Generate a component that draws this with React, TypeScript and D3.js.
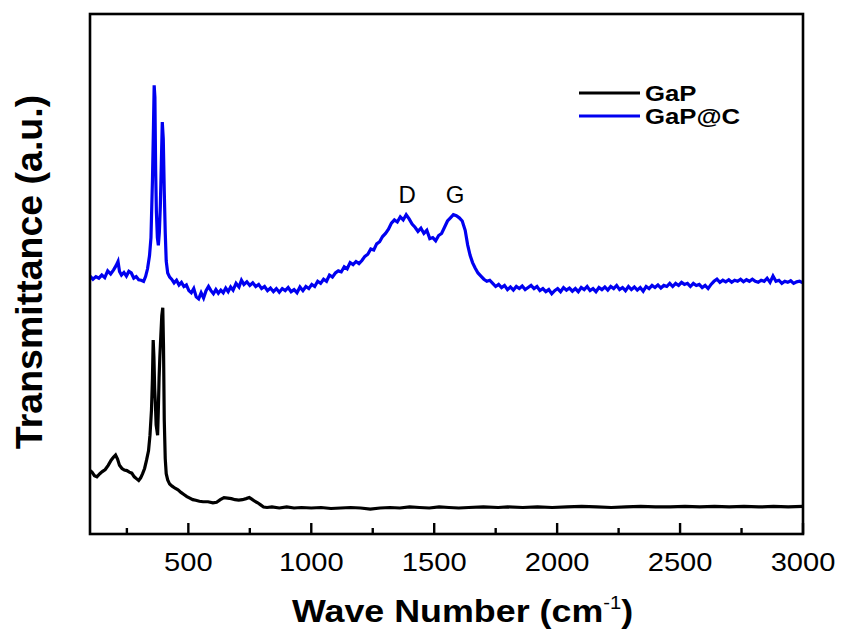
import { useEffect, useRef } from 'react';
import * as d3 from 'd3';

// x axis ticks (wave number, cm-1)
const majorTicks = [500, 1000, 1500, 2000, 2500, 3000];
const minorTicks = [250, 750, 1250, 1750, 2250, 2750];

const seriesNames = ['GaP', 'GaP@C'];
const seriesColors = ['#000000', '#0000f0'];

// band labels over the carbon peaks
const bandLabels = ['D', 'G'];
const bandPositions = [1390, 1585];

// GaP spectrum [wave number, intensity a.u.]
const gapSpectrum: [number, number][] = [
  [100, 12.2], [108, 11.9], [118, 11.2], [128, 11.0], [140, 11.6], [150, 12.0],
  [162, 12.4], [174, 13.2], [186, 14.2], [196, 14.8], [204, 15.2], [212, 14.4],
  [220, 13.2], [230, 12.6], [240, 12.3], [250, 12.2], [260, 11.9], [270, 11.7],
  [280, 11.0], [290, 10.6], [298, 10.3], [306, 10.8], [314, 11.6], [322, 12.6],
  [330, 14.2], [338, 16.0], [344, 19.0], [350, 23.8], [354, 30.0], [357, 37.3],
  [360, 34.0], [363, 28.0], [366, 25.0], [369, 21.0], [372, 20.0], [375, 19.0],
  [378, 24.0], [381, 30.0], [384, 34.0], [388, 38.0], [392, 42.0], [396, 43.5],
  [399, 36.0], [402, 22.0], [406, 14.5], [410, 11.6], [416, 10.4], [424, 9.6],
  [434, 9.2], [446, 8.8], [458, 8.5], [470, 8.0], [482, 7.6], [494, 7.2],
  [506, 6.9], [518, 6.6], [530, 6.5], [545, 6.3], [560, 6.2], [580, 6.2],
  [600, 6.0], [615, 6.1], [630, 6.6], [645, 7.0], [660, 6.9], [675, 6.8],
  [690, 6.6], [705, 6.5], [720, 6.6], [735, 6.8], [748, 7.0], [758, 6.7],
  [770, 6.3], [782, 6.0], [794, 5.6], [806, 5.2], [820, 5.1], [840, 5.2],
  [870, 5.0], [900, 5.2], [930, 5.0], [960, 5.1], [1000, 5.0], [1040, 5.1],
  [1080, 4.9], [1120, 5.0], [1160, 5.1], [1200, 5.0], [1240, 4.8], [1280, 5.0],
  [1320, 5.1], [1360, 5.0], [1400, 5.2], [1440, 5.1], [1480, 5.0], [1520, 5.2],
  [1560, 5.1], [1600, 5.0], [1640, 5.1], [1700, 5.2], [1760, 5.1], [1800, 5.2],
  [1860, 5.1], [1920, 5.2], [1980, 5.1], [2040, 5.2], [2100, 5.3], [2160, 5.2],
  [2220, 5.1], [2280, 5.2], [2340, 5.3], [2400, 5.2], [2460, 5.2], [2520, 5.3],
  [2580, 5.2], [2640, 5.3], [2700, 5.2], [2760, 5.3], [2820, 5.2], [2880, 5.3],
  [2940, 5.2], [3000, 5.3],
];

// GaP@C spectrum [wave number, intensity a.u.]
const gapCSpectrum: [number, number][] = [
  [100, 49.6], [112, 49.0], [124, 49.5], [136, 49.2], [148, 49.8], [160, 49.3],
  [172, 50.6], [184, 50.0], [196, 50.8], [206, 51.6], [214, 52.4], [220, 50.5],
  [228, 49.8], [238, 50.3], [248, 49.6], [258, 50.5], [268, 50.2], [278, 49.2],
  [288, 49.5], [298, 48.9], [308, 48.8], [318, 48.6], [326, 49.5], [334, 51.0],
  [342, 53.5], [348, 57.0], [354, 68.0], [358, 78.0], [361, 86.3], [364, 84.0],
  [367, 70.0], [370, 62.0], [374, 57.0], [378, 55.5], [382, 58.0], [386, 63.0],
  [390, 71.0], [394, 79.2], [398, 76.0], [402, 66.0], [406, 58.0], [410, 52.5],
  [416, 50.2], [424, 49.4], [432, 49.0], [442, 48.3], [452, 48.8], [462, 47.9],
  [472, 48.4], [482, 47.6], [492, 47.9], [502, 46.8], [512, 46.4], [522, 47.2],
  [532, 45.6], [542, 45.2], [552, 46.4], [562, 45.4], [572, 46.8], [582, 47.6],
  [592, 46.8], [602, 46.2], [612, 47.0], [622, 46.3], [632, 46.9], [642, 46.4],
  [652, 47.3], [662, 46.6], [672, 47.5], [682, 46.9], [694, 48.2], [706, 47.5],
  [716, 48.8], [726, 48.0], [738, 48.5], [750, 47.8], [762, 48.3], [774, 47.6],
  [786, 48.0], [798, 47.2], [810, 47.6], [822, 46.8], [834, 47.3], [846, 46.6],
  [858, 47.2], [870, 46.5], [882, 47.2], [894, 46.8], [906, 47.4], [918, 46.6],
  [930, 47.0], [942, 46.4], [954, 47.5], [966, 46.8], [978, 47.6], [990, 47.2],
  [1002, 48.0], [1014, 47.6], [1026, 48.6], [1038, 48.2], [1050, 49.0], [1062, 48.6],
  [1074, 49.8], [1086, 49.4], [1098, 50.2], [1110, 50.6], [1122, 50.4], [1134, 51.4],
  [1146, 51.0], [1158, 52.2], [1170, 51.8], [1182, 52.4], [1194, 52.0], [1206, 52.6],
  [1218, 53.4], [1230, 53.8], [1242, 54.8], [1254, 54.6], [1266, 55.8], [1278, 56.2],
  [1290, 57.2], [1302, 57.8], [1314, 58.6], [1326, 59.8], [1338, 60.4], [1350, 60.0],
  [1362, 61.0], [1374, 60.4], [1386, 61.4], [1398, 60.6], [1410, 59.6], [1422, 59.0],
  [1434, 58.2], [1446, 58.8], [1458, 57.8], [1470, 58.4], [1482, 56.8], [1494, 57.0],
  [1506, 56.4], [1518, 57.4], [1530, 57.8], [1542, 59.0], [1554, 60.2], [1566, 60.8],
  [1578, 61.4], [1590, 61.2], [1602, 60.8], [1614, 60.2], [1626, 58.4], [1636, 55.6],
  [1646, 53.6], [1656, 52.2], [1666, 51.2], [1678, 50.2], [1690, 49.6], [1702, 49.0],
  [1714, 48.6], [1726, 48.8], [1738, 48.2], [1750, 47.6], [1762, 48.0], [1774, 47.4],
  [1786, 47.8], [1798, 47.0], [1810, 47.5], [1822, 46.9], [1834, 47.6], [1846, 47.2],
  [1858, 47.7], [1870, 47.0], [1882, 47.4], [1894, 47.8], [1906, 47.2], [1918, 47.6],
  [1930, 46.8], [1942, 47.2], [1954, 46.6], [1966, 47.0], [1978, 46.2], [1990, 46.8],
  [2002, 47.2], [2014, 46.6], [2026, 47.4], [2038, 46.9], [2050, 47.3], [2062, 46.7],
  [2074, 47.2], [2086, 46.6], [2098, 47.4], [2110, 47.0], [2122, 47.6], [2134, 46.8],
  [2146, 47.2], [2158, 46.6], [2170, 47.4], [2182, 47.0], [2194, 47.5], [2206, 46.9],
  [2218, 47.6], [2230, 47.2], [2242, 47.8], [2254, 47.0], [2266, 47.4], [2278, 46.8],
  [2290, 47.6], [2302, 47.0], [2314, 47.5], [2326, 46.9], [2338, 47.4], [2350, 46.7],
  [2362, 47.6], [2374, 47.2], [2386, 47.8], [2398, 47.4], [2410, 47.9], [2422, 47.3],
  [2434, 47.8], [2446, 47.6], [2458, 48.2], [2470, 47.6], [2482, 48.2], [2494, 47.8],
  [2506, 48.4], [2518, 48.0], [2530, 48.2], [2542, 47.6], [2554, 48.2], [2566, 47.8],
  [2578, 48.0], [2590, 47.4], [2602, 47.8], [2614, 47.2], [2626, 48.0], [2638, 48.6],
  [2650, 49.0], [2662, 48.4], [2674, 48.8], [2686, 48.5], [2698, 48.9], [2710, 48.4],
  [2722, 48.8], [2734, 48.6], [2746, 49.0], [2758, 48.5], [2770, 48.9], [2782, 48.6],
  [2794, 49.0], [2806, 48.6], [2818, 48.4], [2830, 48.8], [2842, 48.6], [2854, 49.2],
  [2866, 48.4], [2878, 49.6], [2890, 48.6], [2902, 48.8], [2914, 48.2], [2926, 48.6],
  [2938, 48.4], [2950, 48.7], [2962, 48.2], [2974, 48.5], [2986, 48.6], [3000, 48.3],
];

const FONT = '"Liberation Sans", Arial, Helvetica, sans-serif';

function App() {
  const svgRef = useRef<SVGSVGElement>(null);

  useEffect(() => {
    const svg = d3.select(svgRef.current);
    svg.selectAll('*').remove();

    const left = 90, right = 803, top = 14, bottom = 534;

    const x = d3.scaleLinear().domain([100, 3000]).range([left, right]);
    const y = d3.scaleLinear().domain([0, 100]).range([bottom, top]);

    const line = d3
      .line<[number, number]>()
      .x((d) => x(d[0]))
      .y((d) => y(d[1]));

    // curves
    [gapSpectrum, gapCSpectrum].forEach((data, i) => {
      svg
        .append('path')
        .datum(data)
        .attr('d', line)
        .attr('fill', 'none')
        .attr('stroke', seriesColors[i])
        .attr('stroke-width', 3.2)
        .attr('stroke-linejoin', 'miter');
    });

    // frame
    svg
      .append('rect')
      .attr('x', left)
      .attr('y', top)
      .attr('width', right - left)
      .attr('height', bottom - top)
      .attr('fill', 'none')
      .attr('stroke', '#000')
      .attr('stroke-width', 2.6);

    // inward ticks on the bottom axis
    const tickG = svg.append('g').attr('stroke', '#000').attr('stroke-width', 2.4);
    majorTicks.forEach((t) => {
      tickG.append('line').attr('x1', x(t)).attr('x2', x(t)).attr('y1', bottom).attr('y2', bottom - 11);
    });
    minorTicks.forEach((t) => {
      tickG.append('line').attr('x1', x(t)).attr('x2', x(t)).attr('y1', bottom).attr('y2', bottom - 6);
    });

    majorTicks.forEach((t) => {
      svg
        .append('g')
        .attr('transform', `translate(${x(t)},571) scale(1.12,1)`)
        .append('text')
        .attr('text-anchor', 'middle')
        .attr('font-family', FONT)
        .attr('font-size', 26)
        .attr('fill', '#000')
        .text(t);
    });

    // x title
    const xt = svg
      .append('g')
      .attr('transform', 'translate(292,622) scale(1.12,1)')
      .append('text')
      .attr('font-family', FONT)
      .attr('font-weight', 'bold')
      .attr('font-size', 32)
      .attr('fill', '#000');
    xt.append('tspan').text('Wave Number (cm');
    xt.append('tspan').attr('dy', -13).attr('font-size', 18).attr('font-weight', 'normal').text('-1');
    xt.append('tspan').attr('dy', 13).text(')');

    // y title
    svg
      .append('text')
      .attr('transform', 'translate(42,272) rotate(-90)')
      .attr('text-anchor', 'middle')
      .attr('font-family', FONT)
      .attr('font-weight', 'bold')
      .attr('font-size', 37.5)
      .attr('fill', '#000')
      .text('Transmittance (a.u.)');

    // band labels
    bandLabels.forEach((lab, i) => {
      svg
        .append('text')
        .attr('x', x(bandPositions[i]))
        .attr('y', y(63.7))
        .attr('text-anchor', 'middle')
        .attr('font-family', FONT)
        .attr('font-size', 24)
        .attr('fill', '#000')
        .text(lab);
    });

    // legend
    seriesNames.forEach((name, i) => {
      const ly = 93 + i * 23;
      svg
        .append('line')
        .attr('x1', 579)
        .attr('x2', 640)
        .attr('y1', ly)
        .attr('y2', ly)
        .attr('stroke', seriesColors[i])
        .attr('stroke-width', 3);
      svg
        .append('g')
        .attr('transform', `translate(645,${ly + 8}) scale(1.12,1)`)
        .append('text')
        .attr('font-family', FONT)
        .attr('font-weight', 'bold')
        .attr('font-size', 23)
        .attr('fill', '#000')
        .text(name);
    });
  }, []);

  return (
    <svg
      ref={svgRef}
      width={842}
      height={631}
      style={{ position: 'absolute', left: 0, top: 0, background: '#fff' }}
    />
  );
}

export default App;
